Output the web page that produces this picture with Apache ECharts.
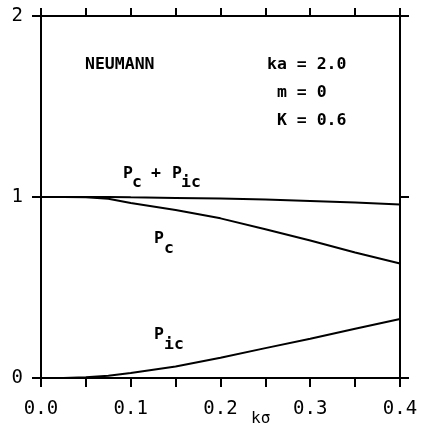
<!DOCTYPE html>
<html>
<head>
<meta charset="utf-8">
<script src="https://cdn.jsdelivr.net/npm/echarts@6/dist/echarts.min.js"></script>
<style>
  html, body { margin: 0; padding: 0; background: #fff; }
  #chart { width: 421px; height: 423px; }
</style>
</head>
<body>
<div id="chart"></div>
<script>
// k·sigma sample points and the three probability curves
const kSigma = [0, 0.025, 0.05, 0.075, 0.1, 0.15, 0.2, 0.25, 0.3, 0.35, 0.4];
const pCoherent = [1.0, 1.0, 0.998, 0.99, 0.967, 0.928, 0.882, 0.822, 0.76, 0.693, 0.633];
const pIncoherent = [0.0, 0.0, 0.004, 0.013, 0.027, 0.063, 0.112, 0.165, 0.217, 0.272, 0.326];
const pTotal = [1.0, 1.0, 1.0, 1.0, 0.998, 0.995, 0.992, 0.986, 0.978, 0.969, 0.958];

const xTicks = [0, 0.1, 0.2, 0.3, 0.4];
const yTicks = [0, 1, 2];

const INK = '#000';
const MONO = '"DejaVu Sans Mono", "Liberation Mono", monospace';

function pairs(xs, ys) { return xs.map((x, i) => [x, ys[i]]); }

const chart = echarts.init(document.getElementById('chart'), null, { renderer: 'canvas' });

const axisLineStyle = { color: INK, width: 2 };

function txt(x, y, s, size, weight) {
  return {
    type: 'text', left: x, top: y, silent: true,
    style: { text: s, fill: INK, font: (weight || 'bold') + ' ' + size + 'px ' + MONO }
  };
}

chart.setOption({
  animation: false,
  backgroundColor: '#fff',
  grid: { left: 41, right: 21, top: 16, bottom: 45 },
  xAxis: [
    {
      type: 'value', position: 'bottom', min: 0, max: 0.4, interval: 0.05,
      axisLine: { show: true, onZero: false, lineStyle: axisLineStyle },
      axisTick: { show: true, inside: false, length: 9, lineStyle: axisLineStyle },
      splitLine: { show: false },
      axisLabel: {
        color: INK, fontFamily: MONO, fontSize: 19, margin: 22,
        formatter: v => {
          const hit = xTicks.find(t => Math.abs(t - v) < 1e-6);
          return hit === undefined ? '' : hit.toFixed(1);
        }
      }
    },
    {
      type: 'value', position: 'top', min: 0, max: 0.4, interval: 0.05,
      axisLine: { show: true, onZero: false, lineStyle: axisLineStyle },
      axisTick: { show: true, inside: false, length: 8, lineStyle: axisLineStyle },
      splitLine: { show: false },
      axisLabel: { show: false }
    }
  ],
  yAxis: [
    {
      type: 'value', position: 'left', min: 0, max: 2, interval: 1,
      axisLine: { show: true, onZero: false, lineStyle: axisLineStyle },
      axisTick: { show: true, inside: false, length: 9, lineStyle: axisLineStyle },
      splitLine: { show: false },
      axisLabel: {
        color: INK, fontFamily: MONO, fontSize: 19, margin: 18,
        formatter: v => (yTicks.indexOf(v) >= 0 ? String(v) : '')
      }
    },
    {
      type: 'value', position: 'right', min: 0, max: 2, interval: 1,
      axisLine: { show: true, onZero: false, lineStyle: axisLineStyle },
      axisTick: { show: true, inside: false, length: 9, lineStyle: axisLineStyle },
      splitLine: { show: false },
      axisLabel: { show: false }
    }
  ],
  series: [
    { name: 'Pc + Pic', type: 'line', data: pairs(kSigma, pTotal), showSymbol: false,
      lineStyle: { color: INK, width: 2 } },
    { name: 'Pc', type: 'line', data: pairs(kSigma, pCoherent), showSymbol: false,
      lineStyle: { color: INK, width: 2 } },
    { name: 'Pic', type: 'line', data: pairs(kSigma, pIncoherent), showSymbol: false,
      lineStyle: { color: INK, width: 2 } }
  ],
  graphic: [
    txt(85, 56, 'NEUMANN', 16.5),
    txt(267, 56, 'ka = 2.0', 16.5),
    txt(267, 84, ' m = 0', 16.5),
    txt(267, 112, ' K = 0.6', 16.5),
    // curve captions with subscripts
    txt(123, 165, 'P', 16.5), txt(132, 174, 'c', 16.5), txt(151, 165, '+', 16.5),
    txt(172, 165, 'P', 16.5), txt(181, 174, 'ic', 16.5),
    txt(154, 230, 'P', 16.5), txt(164, 240, 'c', 16.5),
    txt(154, 326, 'P', 16.5), txt(164, 336, 'ic', 16.5),
    // abscissa name
    txt(251, 411, 'kσ', 16, 'normal')
  ]
});
</script>
</body>
</html>
